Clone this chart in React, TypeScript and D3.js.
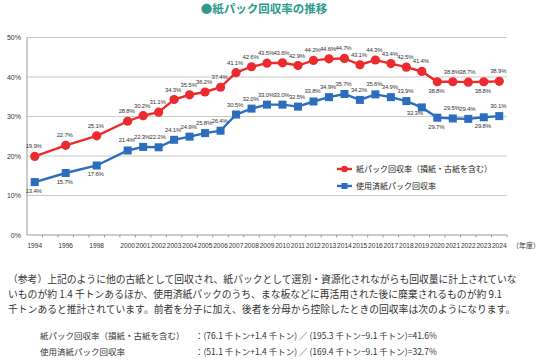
import * as d3 from 'd3';

const years = d3.range(1994, 2025).map(String);
const hiddenYears = ['1995', '1997', '1999'];

// 紙パック回収率（損紙・古紙を含む）
const totalRate: (number | null)[] = [
  19.9, null, 22.7, null, 25.1, null, 28.8, 30.2, 31.1, 34.3, 35.5, 36.2, 37.4, 41.1, 42.6, 43.5,
  43.6, 42.9, 44.2, 44.6, 44.7, 43.1, 44.3, 43.4, 42.5, 41.4, 38.8, 38.8, 38.7, 38.8, 38.9,
];
// 使用済紙パック回収率
const usedRate: (number | null)[] = [
  13.4, null, 15.7, null, 17.6, null, 21.4, 22.3, 22.2, 24.1, 24.9, 25.8, 26.4, 30.5, 32.0, 33.0,
  33.0, 32.5, 33.8, 34.9, 35.7, 34.2, 35.6, 34.9, 33.9, 32.3, 29.7, 29.5, 29.4, 29.8, 30.1,
];
const yTicks = [0, 10, 20, 30, 40, 50];

const totalBelow = ['2020', '2023'];
const usedBelow = ['1994', '1996', '1998', '2019', '2020', '2023'];

const RED = '#ec2b2e';
const BLUE = '#2c6dbd';
const GRID = '#c9c9c9';
const JP = '"Noto Sans CJK JP", "Noto Sans", sans-serif';
const NUM = '"Liberation Sans", Arial, sans-serif';

const noteLines = [
  '（参考）上記のように他の古紙として回収され、紙パックとして選別・資源化されながらも回収量に計上されていな',
  'いものが約 1.4 千トンあるほか、使用済紙パックのうち、まな板などに再活用された後に廃棄されるものが約 9.1',
  '千トンあると推計されています。前者を分子に加え、後者を分母から控除したときの回収率は次のようになります。',
];
const formulaRows = [
  ['紙パック回収率（損紙・古紙を含む）', '：(76.1 千トン+1.4 千トン) ／ (195.3 千トン−9.1 千トン)=41.6%'],
  ['使用済紙パック回収率', '：(51.1 千トン+1.4 千トン) ／ (169.4 千トン−9.1 千トン)=32.7%'],
];

export default function App() {
  const width = 540;
  const height = 363;
  const x = d3.scaleBand<string>().domain(years).range([27, 507]).padding(0);
  const y = d3.scaleLinear().domain([0, 50]).range([235, 37.5]);
  const cx = (yr: string) => (x(yr) ?? 0) + x.bandwidth() / 2;

  const pts = (vals: (number | null)[]) =>
    years.map((yr, i) => ({ yr, v: vals[i] })).filter((d) => d.v !== null) as { yr: string; v: number }[];
  const totalPts = pts(totalRate);
  const usedPts = pts(usedRate);

  const line = d3
    .line<{ yr: string; v: number }>()
    .x((d) => cx(d.yr))
    .y((d) => y(d.v));

  const labelY = (d: { yr: string; v: number }, below: string[]) =>
    below.includes(d.yr) ? y(d.v) + 11 : y(d.v) - 8;

  return (
    <svg width={width} height={height} style={{ position: 'absolute', left: 0, top: 0, background: '#fff' }}>
      {/* title */}
      <text x={264} y={13} textAnchor="middle" fontFamily={JP} fontSize={11.5} fontWeight={700} fill="#2e9a8b">
        ●紙パック回収率の推移
      </text>

      {/* grid */}
      {yTicks.map((t) => (
        <g key={t}>
          {t > 0 && <line x1={27} x2={507} y1={y(t)} y2={y(t)} stroke={GRID} strokeWidth={1.2} />}
          <text x={21} y={y(t) + 2.5} textAnchor="end" fontFamily={NUM} fontSize={7} fill="#333">
            {t}%
          </text>
        </g>
      ))}
      <line x1={27} x2={27} y1={y(50)} y2={y(0)} stroke="#999" strokeWidth={1} />
      <line x1={27} x2={507} y1={y(0)} y2={y(0)} stroke="#999" strokeWidth={1} />
      {years.map((yr) => (
        <line key={yr} x1={(x(yr) ?? 0) + x.bandwidth()} x2={(x(yr) ?? 0) + x.bandwidth()} y1={y(0)} y2={y(0) + 2.5} stroke="#999" />
      ))}
      {years
        .filter((yr) => !hiddenYears.includes(yr))
        .map((yr) => (
          <text key={yr} x={cx(yr)} y={248} textAnchor="middle" fontFamily={NUM} fontSize={6.6} fill="#333">
            {yr}
          </text>
        ))}
      <text x={512} y={248} fontFamily={JP} fontSize={7} fill="#333">
        （年度）
      </text>

      {/* series */}
      <path d={line(usedPts) ?? ''} fill="none" stroke={BLUE} strokeWidth={2.4} />
      {usedPts.map((d) => (
        <rect key={d.yr} x={cx(d.yr) - 4} y={y(d.v) - 4} width={8} height={8} fill={BLUE} />
      ))}
      <path d={line(totalPts) ?? ''} fill="none" stroke={RED} strokeWidth={2.4} />
      {totalPts.map((d) => (
        <circle key={d.yr} cx={cx(d.yr)} cy={y(d.v)} r={4.6} fill={RED} />
      ))}

      {/* data labels */}
      {totalPts.map((d) => (
        <text key={d.yr} x={cx(d.yr) - 1} y={labelY(d, totalBelow)} textAnchor="middle" fontFamily={NUM} fontSize={6} letterSpacing={-0.2} fill="#333">
          {d.v.toFixed(1)}%
        </text>
      ))}
      {usedPts.map((d) => (
        <text
          key={d.yr}
          x={cx(d.yr) - (d.yr === '2019' ? 7 : 1)}
          y={d.yr === '2019' ? y(d.v) + 8 : labelY(d, usedBelow)}
          textAnchor="middle"
          fontFamily={NUM}
          fontSize={6}
          letterSpacing={-0.2}
          fill="#333"
        >
          {d.v.toFixed(1)}%
        </text>
      ))}

      {/* legend */}
      <line x1={337} x2={352} y1={169} y2={169} stroke={RED} strokeWidth={2.4} />
      <circle cx={344.5} cy={169} r={3.3} fill={RED} />
      <text x={356} y={172} fontFamily={JP} fontSize={8} fill="#222">
        紙パック回収率（損紙・古紙を含む）
      </text>
      <line x1={337} x2={352} y1={186} y2={186} stroke={BLUE} strokeWidth={2.4} />
      <rect x={341.5} y={183} width={6} height={6} fill={BLUE} />
      <text x={356} y={189} fontFamily={JP} fontSize={8} fill="#222">
        使用済紙パック回収率
      </text>

      {/* note */}
      {noteLines.map((t, i) => (
        <text key={i} x={8} y={283 + i * 15} fontFamily={JP} fontSize={9.8} fill="#333">
          {t}
        </text>
      ))}
      {formulaRows.map(([a, b], i) => (
        <g key={i}>
          <text x={40} y={339 + i * 16} fontFamily={JP} fontSize={8.5} fill="#333">
            {a}
          </text>
          <text x={195} y={339 + i * 16} fontFamily={JP} fontSize={8.5} fill="#333">
            {b}
          </text>
        </g>
      ))}
    </svg>
  );
}
